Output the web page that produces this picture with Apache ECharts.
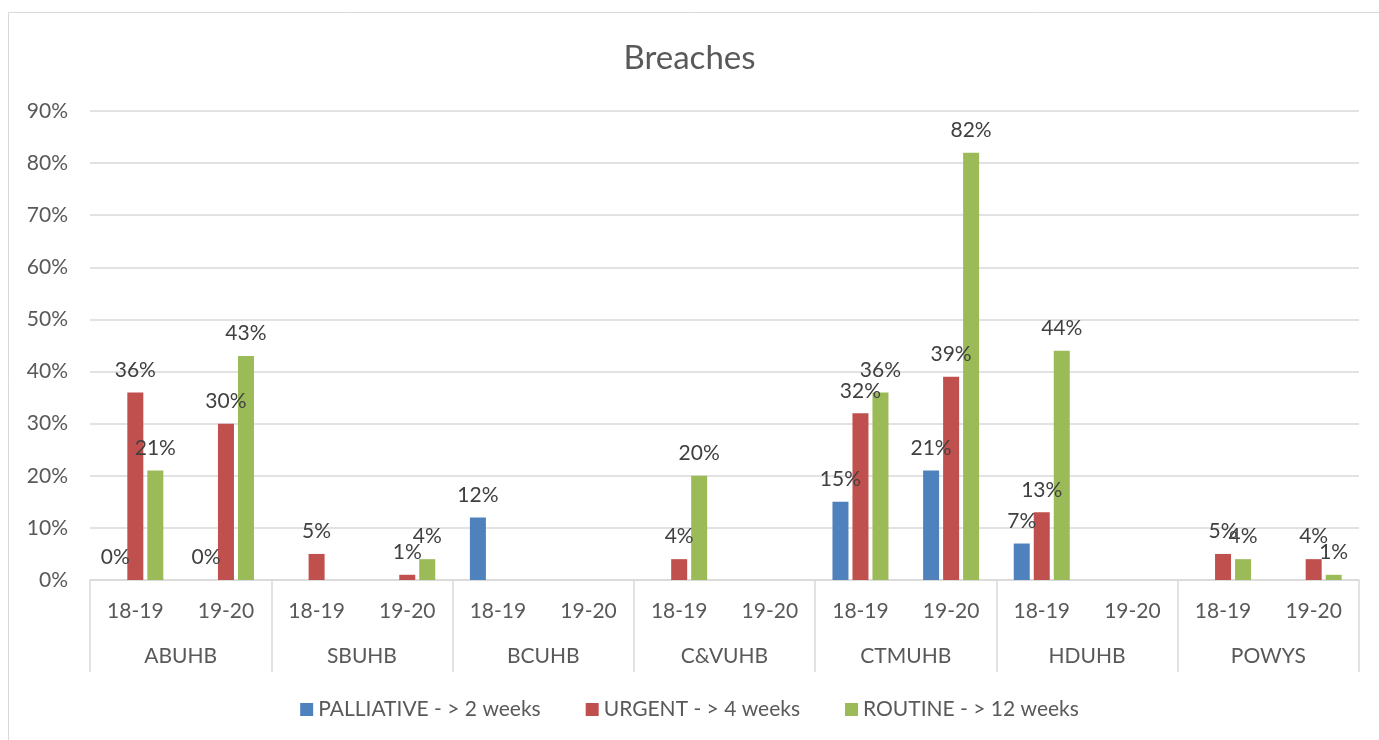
<!DOCTYPE html>
<html>
<head>
<meta charset="utf-8">
<script src="https://cdn.jsdelivr.net/npm/echarts@6/dist/echarts.min.js"></script>
<style>
  html, body { margin: 0; padding: 0; background: #fff; }
  #chart { width: 1379px; height: 740px; }
</style>
</head>
<body>
<div id="chart"></div>
<script>
// categories
const boards = ['ABUHB', 'SBUHB', 'BCUHB', 'C&VUHB', 'CTMUHB', 'HDUHB', 'POWYS'];
const years = ['18-19', '19-20'];
const yTicks = [0, 10, 20, 30, 40, 50, 60, 70, 80, 90];

// values in %, null = no bar / no label
const palliative = [0, 0, null, null, 12, null, null, null, 15, 21, 7, null, null, null];
const urgent     = [36, 30, 5, 1, null, null, 4, null, 32, 39, 13, null, 5, 4];
const routine    = [21, 43, null, 4, null, null, 20, null, 36, 82, 44, null, 4, 1];

const seriesNames = ['PALLIATIVE - > 2 weeks', 'URGENT - > 4 weeks', 'ROUTINE - > 12 weeks'];
const colors = ['#4F81BD', '#C0504D', '#9BBB59'];

const cats = [];
boards.forEach(b => years.forEach(y => cats.push(y)));

const font = 'Lato, "Open Sans", sans-serif';
const fs = 21;
const chart = echarts.init(document.getElementById('chart'));

function barSeries(name, data, color) {
  return {
    name: name,
    type: 'bar',
    data: data,
    barWidth: 16,
    barGap: '25%',
    itemStyle: { color: color },
    label: {
      show: true,
      position: 'top',
      distance: 12,
      formatter: p => p.value + '%',
      color: '#404040',
      fontFamily: font,
      fontSize: fs
    }
  };
}

chart.setOption({
  animation: false,
  textStyle: { fontFamily: font },
  color: colors,
  graphic: [{
    type: 'rect',
    shape: { x: 8.5, y: 12.5, width: 1400, height: 760 },
    style: { fill: 'none', stroke: '#d9d9d9', lineWidth: 1 },
    silent: true
  }],
  title: {
    text: 'Breaches',
    left: 'center',
    top: 37,
    textStyle: { fontFamily: font, fontSize: 33, fontWeight: 'normal', color: '#595959' }
  },
  legend: {
    bottom: 15,
    left: 'center',
    itemWidth: 13,
    itemHeight: 13,
    itemGap: 45,
    icon: 'rect',
    textStyle: { fontFamily: font, fontSize: fs, color: '#595959' },
    data: seriesNames
  },
  grid: { left: 90, right: 20, top: 111, bottom: 160 },
  xAxis: [
    {
      type: 'category',
      data: cats,
      axisLine: { lineStyle: { color: '#d9d9d9', width: 1.5 } },
      axisTick: { show: false },
      axisLabel: { margin: 21, color: '#595959', fontSize: fs, fontFamily: font, interval: 0 }
    },
    {
      type: 'category',
      position: 'bottom',
      data: boards,
      axisLine: { show: false },
      axisTick: { show: true, length: 92, lineStyle: { color: '#d9d9d9', width: 1.5 } },
      axisLabel: { margin: 66, color: '#595959', fontSize: fs, fontFamily: font, interval: 0 },
      splitLine: { show: false }
    }
  ],
  yAxis: {
    type: 'value',
    min: yTicks[0],
    max: yTicks[yTicks.length - 1],
    interval: 10,
    axisLine: { show: false },
    axisTick: { show: false },
    axisLabel: { formatter: '{value}%', margin: 22, color: '#595959', fontSize: fs, fontFamily: font },
    splitLine: { lineStyle: { color: '#d9d9d9', width: 1.5 } }
  },
  series: [
    barSeries(seriesNames[0], palliative, colors[0]),
    barSeries(seriesNames[1], urgent, colors[1]),
    barSeries(seriesNames[2], routine, colors[2])
  ]
});
</script>
</body>
</html>
